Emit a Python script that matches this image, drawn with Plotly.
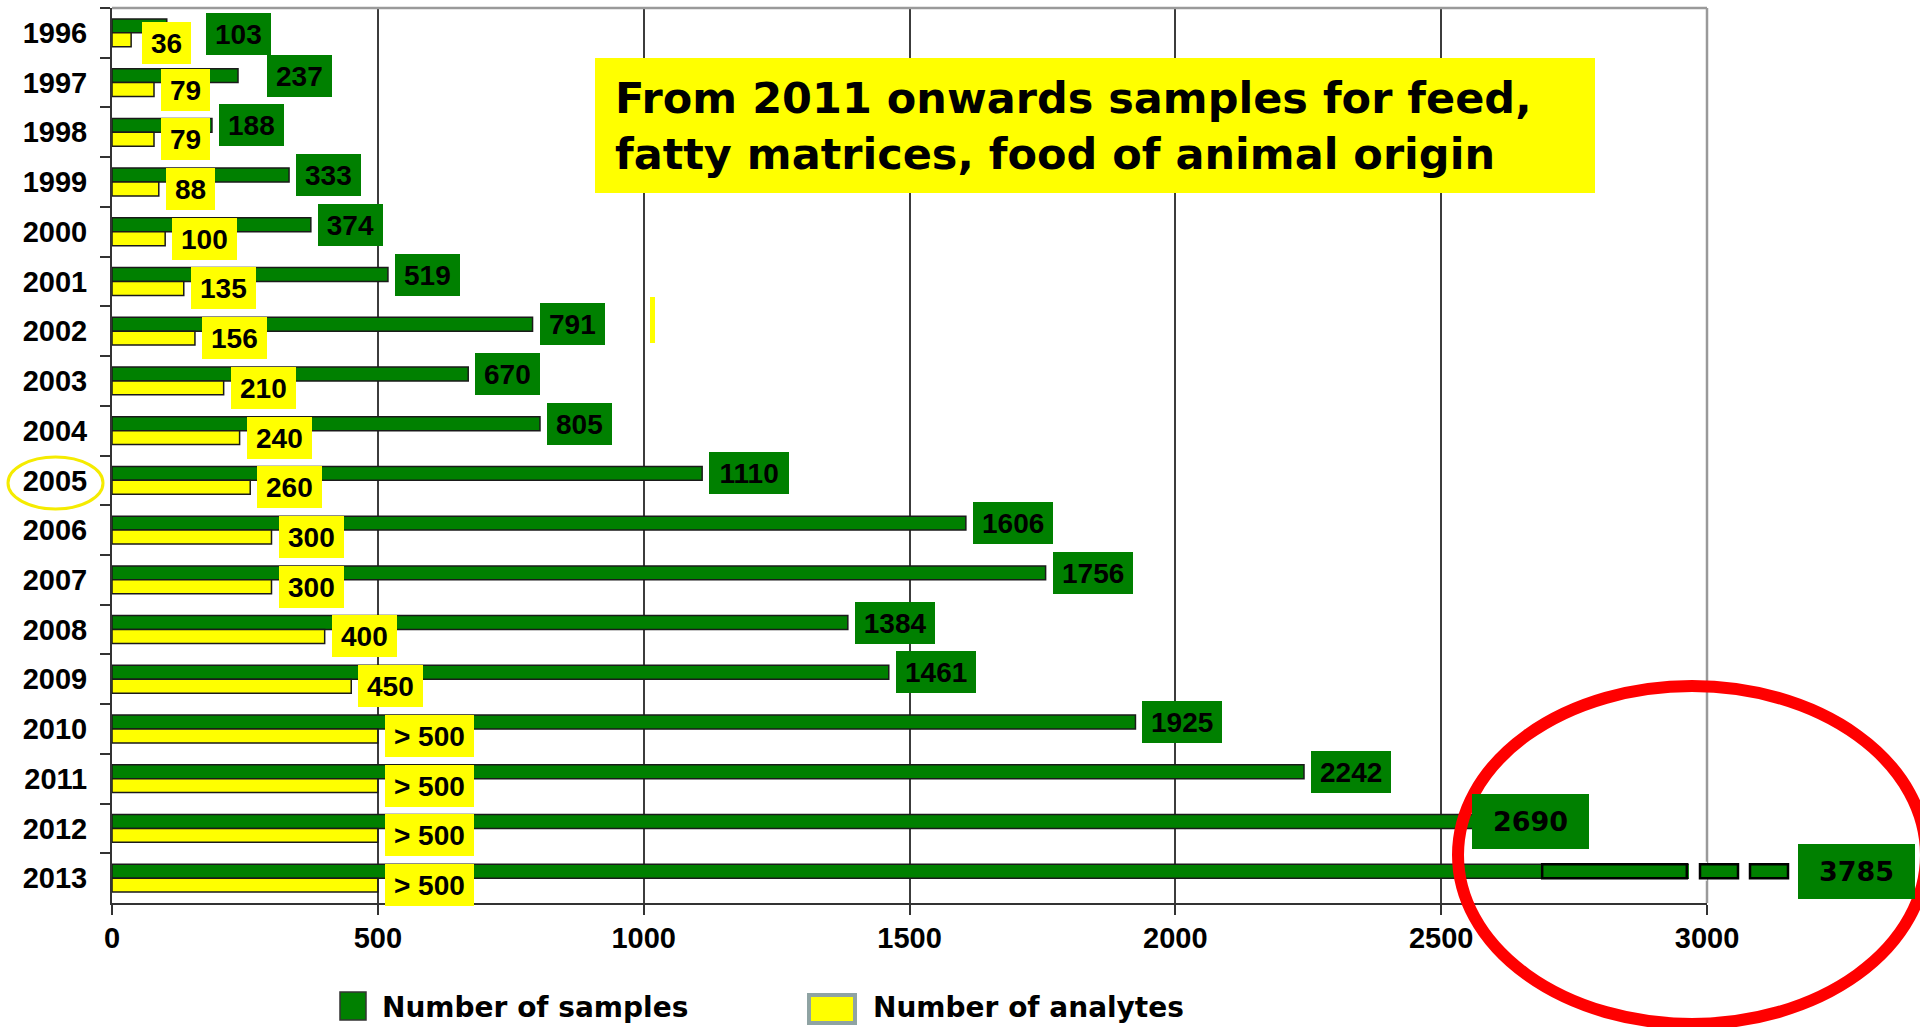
import plotly.graph_objects as go

# ---- data -------------------------------------------------------------
years = ["1996", "1997", "1998", "1999", "2000", "2001", "2002", "2003", "2004",
         "2005", "2006", "2007", "2008", "2009", "2010", "2011", "2012", "2013"]
samples = [103, 237, 188, 333, 374, 519, 791, 670, 805,
           1110, 1606, 1756, 1384, 1461, 1925, 2242, 2690, 3785]
analytes = [36, 79, 79, 88, 100, 135, 156, 210, 240,
            260, 300, 300, 400, 450, 500, 500, 500, 500]
analyte_labels = ["36", "79", "79", "88", "100", "135", "156", "210", "240",
                  "260", "300", "300", "400", "450", "> 500", "> 500", "> 500", "> 500"]
x_ticks = [0, 500, 1000, 1500, 2000, 2500, 3000]
series_names = ["Number of samples", "Number of analytes"]
note_text = "From 2011 onwards samples for feed,<br>fatty matrices, food of animal origin"

# ---- style ------------------------------------------------------------
GREEN = "#008000"
YELLOW = "#FFFF00"
W, H = 1920, 1027
PL, PR, PT, PB = 112, 1707, 8, 903          # plot-area edges in pixels
X_MAX = x_ticks[-1]
BARGAP = 0.44
HALF = (1 - BARGAP) / 2                      # width of one bar in category units
LABEL_FONT = "Liberation Sans, Arial, sans-serif"
WIDE_FONT = "DejaVu Sans, Verdana, sans-serif"
VAL_SIZE = 28


def px(x):
    return (x - PL) / (PR - PL)


def py(y):
    return (PB - y) / (PB - PT)


def text_w(s, size):
    widths = {">": 0.584, " ": 0.278}
    return sum(widths.get(c, 0.556) for c in s) * size


fig = go.Figure()
fig.add_trace(go.Bar(
    y=years, x=samples, orientation="h", name=series_names[0],
    marker=dict(color=GREEN, line=dict(color="#1a1a1a", width=1.5)),
))
fig.add_trace(go.Bar(
    y=years, x=analytes, orientation="h", name=series_names[1],
    marker=dict(color=YELLOW, line=dict(color="#1a1a1a", width=1.5)),
))

annotations = []
shapes = []

# value labels for the sample counts (green boxes)
green_nudge = {"1996": (32, -8), "1997": (22, 0), "2012": (-77, 0)}
for i, (yr, v) in enumerate(zip(years, samples)):
    s = str(v)
    if v > X_MAX:
        # value beyond the axis: label placed after the broken bar
        annotations.append(dict(
            x=px(1798), y=i - HALF / 2, xref="paper", yref="y",
            xanchor="left", yanchor="middle", text=s, showarrow=False,
            font=dict(family=WIDE_FONT, size=27, color="black", weight="bold"),
            bgcolor=GREEN, borderpad=11, borderwidth=0, width=95, height=33,
        ))
        continue
    big = yr == "2012"
    dx, dy = green_nudge.get(yr, (0, 0))
    annotations.append(dict(
        x=v, y=i - HALF / 2, xref="x", yref="y",
        xanchor="left", yanchor="middle", text=s, showarrow=False,
        xshift=7 + dx, yshift=dy,
        font=dict(family=WIDE_FONT if big else LABEL_FONT,
                  size=27 if big else VAL_SIZE, color="black", weight="bold"),
        bgcolor=GREEN, borderwidth=0,
        borderpad=11 if big else 5,
        width=95 if big else text_w(s, VAL_SIZE) + 8,
        height=33 if big else 32,
    ))

# value labels for the analyte counts (yellow boxes)
yellow_nudge = {"1996": (4, -3)}
for i, (yr, v, s) in enumerate(zip(years, analytes, analyte_labels)):
    dx, dy = yellow_nudge.get(yr, (0, 0))
    annotations.append(dict(
        x=v, y=i + HALF / 2, xref="x", yref="y",
        xanchor="left", yanchor="middle", text=s, showarrow=False,
        xshift=7 + dx, yshift=dy,
        font=dict(family=LABEL_FONT, size=VAL_SIZE, color="black", weight="bold"),
        bgcolor=YELLOW, borderwidth=0, borderpad=5,
        width=text_w(s, VAL_SIZE) + 8, height=32,
    ))

# grey frame on the top and right
shapes.append(dict(type="line", xref="paper", yref="paper", x0=0, x1=1, y0=1, y1=1,
                   line=dict(color="#9a9a9a", width=2.5), layer="above"))
shapes.append(dict(type="line", xref="paper", yref="paper", x0=1, x1=1, y0=0, y1=1,
                   line=dict(color="#9a9a9a", width=2.5), layer="above"))

# broken bar for the value that exceeds the axis
last = len(years) - 1
y_top, y_bot = last - HALF, last
shapes.append(dict(type="rect", xref="x", yref="y", x0=samples[last - 1], x1=2962,
                   y0=y_top, y1=y_bot, fillcolor=GREEN,
                   line=dict(color="black", width=2.5), layer="above"))
shapes.append(dict(type="rect", xref="x", yref="y", x0=2966, x1=X_MAX,
                   y0=y_top - 0.05, y1=y_bot + 0.05, fillcolor="white",
                   line=dict(width=0), layer="above"))
bar_px_top = PT + (y_top + 0.5) * (PB - PT) / len(years)
bar_px_bot = PT + (y_bot + 0.5) * (PB - PT) / len(years)
for a, b in [(1700, 1738), (1750, 1788)]:
    shapes.append(dict(type="rect", xref="paper", yref="paper",
                       x0=px(a), x1=px(b), y0=py(bar_px_top), y1=py(bar_px_bot),
                       fillcolor=GREEN, line=dict(color="black", width=2.5),
                       layer="above"))

# note box
shapes.append(dict(type="rect", xref="paper", yref="paper",
                   x0=px(595), x1=px(1595), y0=py(58), y1=py(193),
                   fillcolor=YELLOW, line=dict(width=0), layer="above"))
annotations.append(dict(
    x=px(613), y=py(126), xref="paper", yref="paper",
    xanchor="left", yanchor="middle", align="left", text=note_text, showarrow=False,
    font=dict(family=WIDE_FONT, size=43, color="black", weight="bold"),
))

# small yellow stroke
shapes.append(dict(type="rect", xref="paper", yref="paper",
                   x0=px(650), x1=px(655), y0=py(297), y1=py(343),
                   fillcolor=YELLOW, line=dict(width=0), layer="above"))

# highlight rings
shapes.append(dict(type="circle", xref="paper", yref="paper",
                   x0=px(8), x1=px(103), y0=py(457), y1=py(509),
                   line=dict(color="#F5EB00", width=3), layer="above"))
shapes.append(dict(type="circle", xref="paper", yref="paper",
                   x0=px(1458), x1=px(1926), y0=py(686), y1=py(1024),
                   line=dict(color="#FF0000", width=12), layer="above"))

# legend drawn at the bottom
shapes.append(dict(type="rect", xref="paper", yref="paper",
                   x0=px(340), x1=px(366), y0=py(992), y1=py(1020),
                   fillcolor=GREEN, line=dict(color="#333333", width=1.5), layer="above"))
shapes.append(dict(type="rect", xref="paper", yref="paper",
                   x0=px(809), x1=px(855), y0=py(995), y1=py(1023),
                   fillcolor=YELLOW, line=dict(color="#8fa3a3", width=4), layer="above"))
for name, x_left in zip(series_names, [380, 871]):
    annotations.append(dict(
        x=px(x_left), y=py(1008), xref="paper", yref="paper",
        xanchor="left", yanchor="middle", text=name, showarrow=False,
        font=dict(family=WIDE_FONT, size=28, color="black", weight="bold"),
    ))

fig.update_layout(
    width=W, height=H,
    margin=dict(l=PL, r=W - PR, t=PT, b=H - PB, pad=0),
    paper_bgcolor="white", plot_bgcolor="white",
    barmode="group", bargap=BARGAP, bargroupgap=0,
    showlegend=False,
    annotations=annotations, shapes=shapes,
    xaxis=dict(
        range=[0, X_MAX], tickvals=x_ticks, ticktext=[str(t) for t in x_ticks],
        showgrid=True, gridcolor="#3c3c3c", gridwidth=2,
        showline=True, linecolor="#333333", linewidth=2,
        ticks="outside", ticklen=10, tickwidth=2, tickcolor="#333333",
        tickfont=dict(family=LABEL_FONT, size=29, color="black", weight="bold"),
        ticklabelstandoff=-2, zeroline=False,
    ),
    yaxis=dict(
        type="category", categoryorder="array", categoryarray=years,
        range=[len(years) - 0.5, -0.5],
        showgrid=False, showline=True, linecolor="#333333", linewidth=2,
        ticks="outside", tickson="boundaries", ticklen=10, tickwidth=2,
        tickcolor="#333333",
        tickfont=dict(family=LABEL_FONT, size=29, color="black", weight="bold"),
        ticklabelstandoff=17, zeroline=False,
    ),
)

fig.write_html("out.html")
